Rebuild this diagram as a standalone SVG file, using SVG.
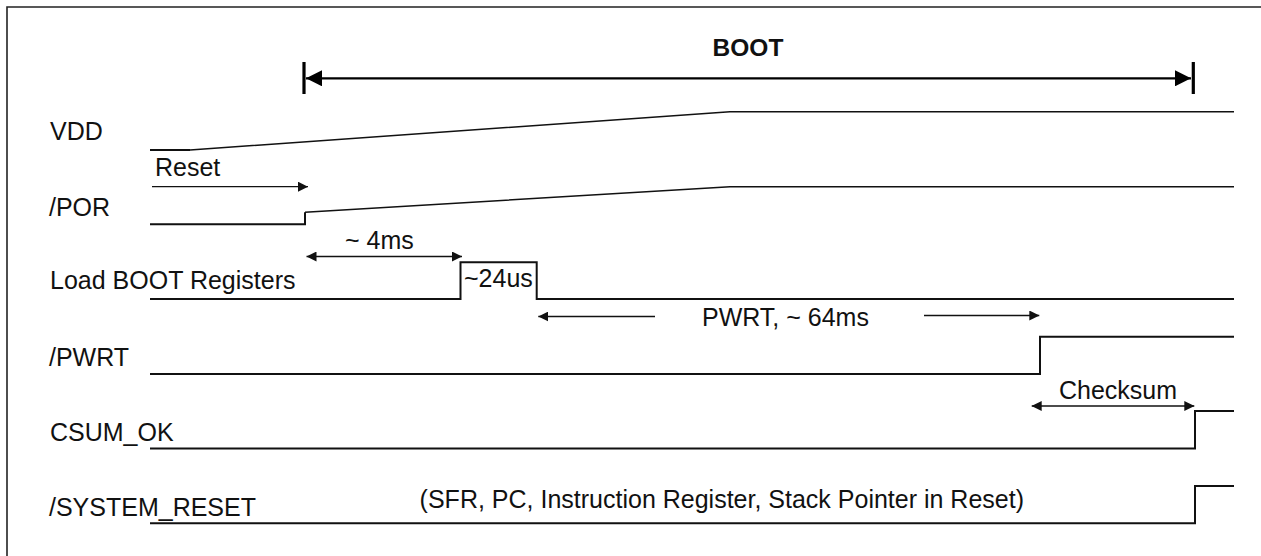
<svg xmlns="http://www.w3.org/2000/svg" width="1261" height="556" viewBox="0 0 1261 556">
<style>
text{font-family:"Liberation Sans",Arial,sans-serif;font-size:25px;fill:#111}
.b{font-weight:bold;font-size:24.5px}
.sig{fill:none;stroke:#111;stroke-width:2}
.slope{fill:none;stroke:#111;stroke-width:1.6}
.arr{fill:none;stroke:#111;stroke-width:1.3}
.big{fill:none;stroke:#000;stroke-width:2.2}
.bar{stroke:#000;stroke-width:3.2}
.frame{fill:none;stroke:#222;stroke-width:1.6}
</style>
<defs>
<marker id="ah" viewBox="0 0 10 10" refX="10" refY="5" markerWidth="10" markerHeight="10" markerUnits="userSpaceOnUse" orient="auto-start-reverse"><path d="M0,0 L10,5 L0,10 z" fill="#111"/></marker>
<marker id="bh" viewBox="0 0 16 16" refX="16" refY="8" markerWidth="16" markerHeight="16" markerUnits="userSpaceOnUse" orient="auto-start-reverse"><path d="M0,0 L16,8 L0,16 z" fill="#000"/></marker>
</defs>
<rect width="1261" height="556" fill="#fff"/>
<path class="frame" d="M7,556 V7 H1261"/>
<g id="boot">
<text class="b" x="748" y="56" text-anchor="middle">BOOT</text>
</g>
<g id="vdd">
<text x="50" y="140">VDD</text>
<path class="sig" d="M150,150 H190"/>
<path class="slope" d="M190,150 L730,111.7 H1234"/>
</g>
<g id="por">
<text x="49" y="216">/POR</text>
<path class="sig" d="M150,224.3 H305 V212.3"/>
<path class="slope" d="M305,212.3 L730,186.7 H1234"/>
</g>
<g id="loadboot">
<text x="50" y="289">Load BOOT Registers</text>
<path class="sig" d="M150,299 H460.5 V262.3 H536.7 V299 H1234"/>
<text x="464" y="287">~24us</text>
</g>
<g id="pwrt">
<text x="49" y="366">/PWRT</text>
<path class="sig" d="M150,374 H1040 V336.7 H1234"/>
</g>
<g id="csum">
<text x="50" y="441">CSUM_OK</text>
<path class="sig" d="M150,448.5 H1195 V411 H1234"/>
</g>
<g id="sysreset">
<text x="49" y="516">/SYSTEM_RESET</text>
<path class="sig" d="M150,523.3 H1195 V486 H1234"/>
<text x="1024" y="508" text-anchor="end">(SFR, PC, Instruction Register, Stack Pointer in Reset)</text>
</g>
<g id="connectors">
<path class="big" d="M306,78.3 H1191" marker-start="url(#bh)" marker-end="url(#bh)"/>
<line class="bar" x1="304" y1="62" x2="304" y2="94"/>
<line class="bar" x1="1193.3" y1="62" x2="1193.3" y2="94"/>
<path class="arr" d="M152,186.7 H308" marker-end="url(#ah)"/>
<text x="155" y="176">Reset</text>
<path class="arr" d="M306.5,256.5 H462" marker-start="url(#ah)" marker-end="url(#ah)"/>
<text x="345" y="249">~ 4ms</text>
<path class="arr" d="M538.3,316.5 H655" marker-start="url(#ah)"/>
<text x="702" y="326">PWRT, ~ 64ms</text>
<path class="arr" d="M924,315.5 H1039.3" marker-end="url(#ah)"/>
<path class="arr" d="M1031.7,406 H1194.3" marker-start="url(#ah)" marker-end="url(#ah)"/>
<text x="1059" y="399">Checksum</text>
</g>
</svg>
